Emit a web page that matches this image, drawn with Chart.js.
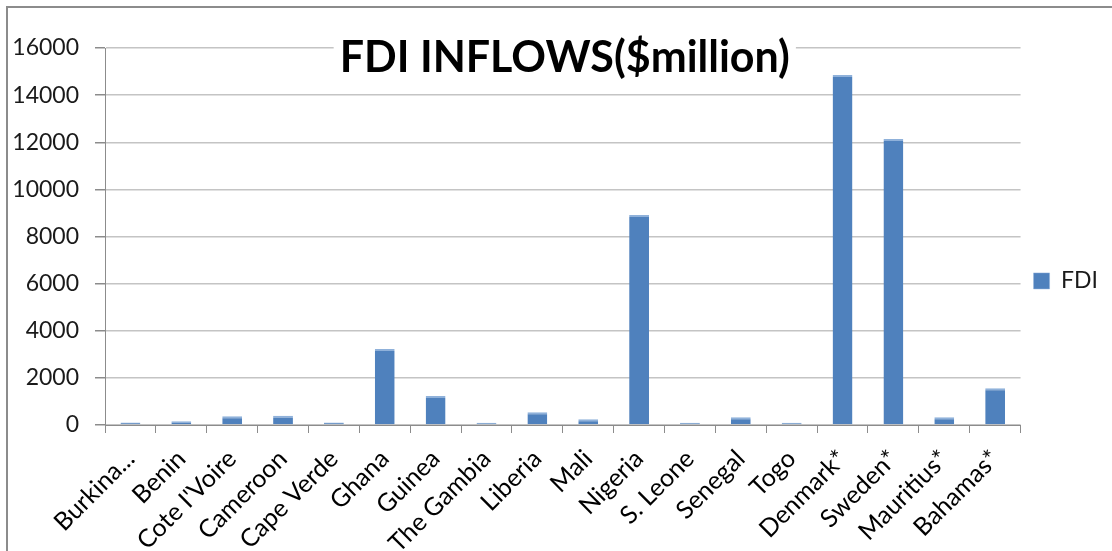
<!DOCTYPE html>
<html>
<head>
<meta charset="utf-8">
<script src="https://cdn.jsdelivr.net/npm/chart.js@4/dist/chart.umd.min.js"></script>
<style>
  html, body { margin: 0; padding: 0; background: #fff; overflow: hidden; }
  #wrap { position: relative; width: 1112px; height: 551px; }
  #frame { position: absolute; left: 6px; top: 6px; width: 1120px; height: 560px;
           border-left: 2px solid #8c8c8c; border-top: 2px solid #8c8c8c; pointer-events: none; }
  canvas { position: absolute; left: 0; top: 0; }
</style>
</head>
<body>
<div id="wrap">
  <canvas id="chart" width="1112" height="551"></canvas>
  <div id="frame"></div>
</div>
<script>
// FDI inflows by country, $ million
const categories = [
  'Burkina...', 'Benin', "Cote I'Voire", 'Cameroon', 'Cape Verde', 'Ghana',
  'Guinea', 'The Gambia', 'Liberia', 'Mali', 'Nigeria', 'S. Leone',
  'Senegal', 'Togo', 'Denmark*', 'Sweden*', 'Mauritius*', 'Bahamas*'
];
const fdiValues = [
  110, 160, 370, 395, 110, 3225,
  1230, 100, 540, 240, 8910, 100,
  330, 100, 14850, 12140, 330, 1560
];
const yTickValues = [0, 2000, 4000, 6000, 8000, 10000, 12000, 14000, 16000];
const seriesName = 'FDI';
const chartTitle = 'FDI INFLOWS($million)';

const FONT = 'Lato';

// Title sits inside the plot, on a white patch over the top gridline
const titleOverlay = {
  id: 'titleOverlay',
  beforeDatasetsDraw(chart) {
    const { ctx, chartArea } = chart;
    ctx.save();
    ctx.font = 'bold 43px ' + FONT;
    const w = ctx.measureText(chartTitle).width;
    const cx = (chartArea.left + chartArea.right) / 2 + 2;
    const baseline = 72;
    ctx.fillStyle = '#ffffff';
    ctx.fillRect(cx - w / 2 - 6, baseline - 40, w + 12, 52);
    ctx.fillStyle = '#000000';
    ctx.textAlign = 'center';
    ctx.textBaseline = 'alphabetic';
    ctx.fillText(chartTitle, cx, baseline);
    ctx.restore();
  }
};

new Chart(document.getElementById('chart'), {
  type: 'bar',
  data: {
    labels: categories,
    datasets: [{
      label: seriesName,
      data: fdiValues,
      backgroundColor: '#4f81bd',
      borderColor: '#8fb1da',
      borderWidth: { top: 2, left: 0, right: 0, bottom: 0 },
      borderSkipped: 'start',
      categoryPercentage: 1,
      barPercentage: 0.39
    }]
  },
  options: {
    responsive: false,
    animation: false,
    devicePixelRatio: 1,
    layout: { padding: { left: 8, top: 48, right: 4, bottom: 0 } },
    plugins: {
      title: { display: false },
      tooltip: { enabled: false },
      legend: {
        display: true,
        position: 'right',
        align: 'start',
        title: { display: true, text: ' ', padding: { top: 194, bottom: 0 }, font: { size: 12 } },
        labels: {
          boxWidth: 16,
          boxHeight: 16,
          padding: 13,
          color: '#1a1a1a',
          font: { family: FONT, size: 23 }
        }
      }
    },
    scales: {
      x: {
        offset: true,
        grid: {
          offset: true,
          drawOnChartArea: false,
          drawTicks: true,
          tickLength: 8,
          tickColor: '#8c8c8c'
        },
        border: { display: true, color: '#8c8c8c', width: 1 },
        ticks: {
          autoSkip: false,
          minRotation: 45,
          maxRotation: 45,
          padding: 11,
          color: '#000000',
          font: { family: FONT, size: 25 }
        },
        afterFit(scale) { scale.height = 126; }
      },
      y: {
        min: 0,
        max: 16000,
        afterBuildTicks(scale) { scale.ticks = yTickValues.map(v => ({ value: v })); },
        grid: {
          color: '#c4c4c4',
          lineWidth: 1.5,
          drawTicks: true,
          tickLength: 10,
          tickColor: '#8c8c8c'
        },
        border: { display: true, color: '#8c8c8c', width: 1 },
        ticks: {
          padding: 16,
          color: '#1a1a1a',
          font: { family: FONT, size: 23 },
          callback: v => String(v)
        },
        afterFit(scale) { scale.width = 97; }
      }
    }
  },
  plugins: [titleOverlay]
});
</script>
</body>
</html>
